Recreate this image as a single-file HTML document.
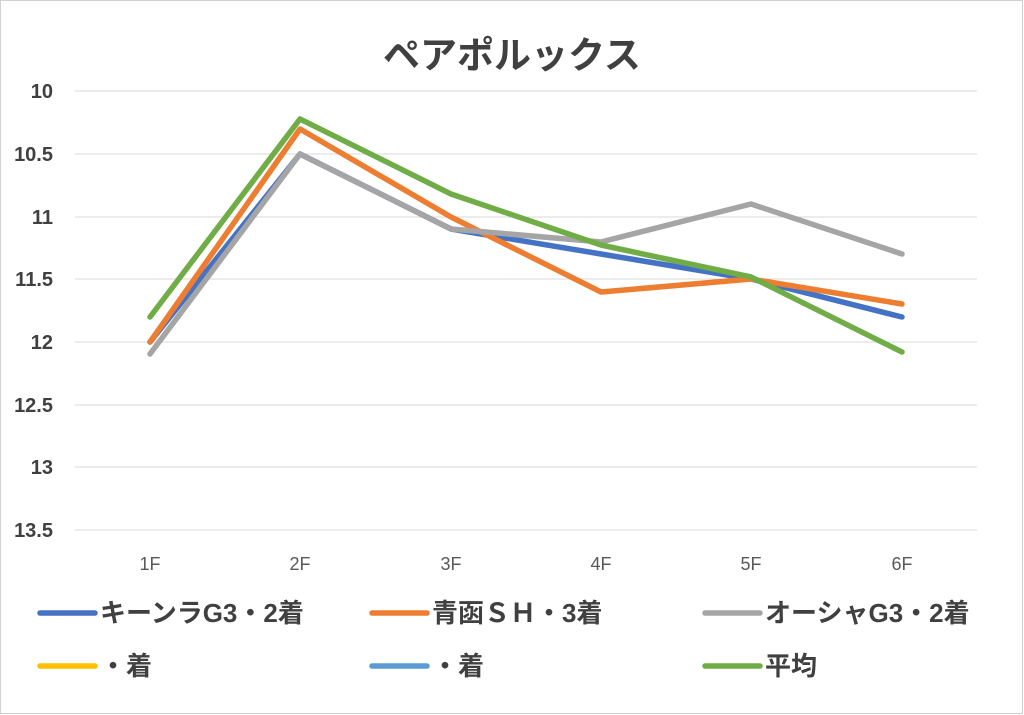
<!DOCTYPE html>
<html><head><meta charset="utf-8"><style>
body{margin:0;background:#fff;}
svg{display:block;}
text{font-family:"Liberation Sans","Noto Sans CJK JP",sans-serif;}
</style></head><body>
<svg width="1024" height="715" viewBox="0 0 1024 715">
<rect x="0.5" y="0.5" width="1022" height="713" fill="#fff" stroke="#d0d0d0"/>
<text x="512" y="68" text-anchor="middle" font-size="37" font-weight="bold" fill="#404040" font-family="'Noto Sans CJK JP',sans-serif">ペアポルックス</text>
<g stroke="#d9d9d9" stroke-width="1">
<line x1="75" y1="91" x2="977" y2="91"/><line x1="75" y1="154" x2="977" y2="154"/>
<line x1="75" y1="217" x2="977" y2="217"/><line x1="75" y1="279" x2="977" y2="279"/>
<line x1="75" y1="342" x2="977" y2="342"/><line x1="75" y1="405" x2="977" y2="405"/>
<line x1="75" y1="467" x2="977" y2="467"/><line x1="75" y1="530" x2="977" y2="530"/>
</g>
<g font-size="20" font-weight="bold" fill="#404040" text-anchor="end">
<text x="53" y="98">10</text><text x="53" y="161">10.5</text><text x="53" y="224">11</text>
<text x="53" y="286">11.5</text><text x="53" y="349">12</text><text x="53" y="412">12.5</text>
<text x="53" y="474">13</text><text x="53" y="537">13.5</text>
</g>
<g font-size="18" fill="#595959" text-anchor="middle">
<text x="150" y="570">1F</text><text x="300" y="570">2F</text><text x="451" y="570">3F</text>
<text x="601" y="570">4F</text><text x="751" y="570">5F</text><text x="902" y="570">6F</text>
</g>
<g fill="none" stroke-width="5.5" stroke-linejoin="round" stroke-linecap="round">
<polyline stroke="#4472c4" points="150,342 300,154 451,229 601,254 751,279 902,317"/>
<polyline stroke="#ed7d31" points="150,342 300,129 451,217 601,292 751,279 902,304"/>
<polyline stroke="#a5a5a5" points="150,354 300,154 451,229 601,242 751,204 902,254"/>
<polyline stroke="#70ad47" points="150,317 300,119 451,194 601,245 751,277 902,352"/>
</g>
<g stroke-width="5.5" stroke-linecap="round">
<line x1="40" y1="613" x2="95" y2="613" stroke="#4472c4"/>
<line x1="372" y1="613" x2="427" y2="613" stroke="#ed7d31"/>
<line x1="705" y1="613" x2="760" y2="613" stroke="#a5a5a5"/>
<line x1="40" y1="666" x2="95" y2="666" stroke="#ffc000"/>
<line x1="372" y1="666" x2="427" y2="666" stroke="#5b9bd5"/>
<line x1="705" y1="666" x2="760" y2="666" stroke="#70ad47"/>
</g>
<g font-size="26" font-weight="bold" fill="#404040">
<text x="100" y="622">キーンラG3・2着</text>
<text x="432" y="622">青函ＳＨ・3着</text>
<text x="765" y="622">オーシャG3・2着</text>
<text x="100" y="675">・着</text>
<text x="432" y="675">・着</text>
<text x="765" y="675">平均</text>
</g>
</svg>
</body></html>
